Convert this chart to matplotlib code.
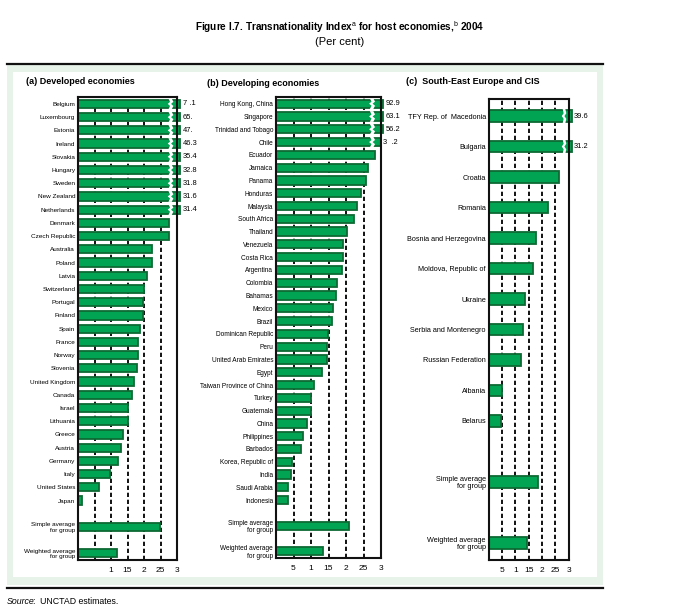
import numpy as np
import matplotlib
matplotlib.use('Agg')
import matplotlib.pyplot as plt
from matplotlib.patches import Rectangle, Polygon
from matplotlib.lines import Line2D

plt.rcParams['font.family'] = ['Liberation Sans', 'DejaVu Sans']
plt.rcParams['mathtext.fontset'] = 'custom'
plt.rcParams['mathtext.rm'] = 'Liberation Sans'
plt.rcParams['mathtext.bf'] = 'Liberation Sans:bold'

# (a) economias desarrolladas
paises_a = ['Belgium', 'Luxembourg', 'Estonia', 'Ireland', 'Slovakia', 'Hungary', 'Sweden',
            'New Zealand', 'Netherlands', 'Denmark', 'Czech Republic', 'Australia', 'Poland',
            'Latvia', 'Switzerland', 'Portugal', 'Finland', 'Spain', 'France', 'Norway',
            'Slovenia', 'United Kingdom', 'Canada', 'Israel', 'Lithuania', 'Greece', 'Austria',
            'Germany', 'Italy', 'United States', 'Japan',
            'Simple average\nfor group', 'Weighted average\nfor group']
valores_a = [77.1, 65.0, 47.0, 46.3, 35.4, 32.8, 31.8, 31.6, 31.4, 27.7, 27.7, 22.3, 22.4,
             21.0, 20.1, 19.8, 19.6, 18.8, 18.3, 18.3, 17.8, 17.1, 16.5, 15.2, 15.2, 13.7,
             13.1, 12.2, 9.6, 6.5, 1.3, 24.8, 11.9]
etiquetas_a = ['7 .1', '65.', '47.', '46.3', '35.4', '32.8', '31.8', '31.6', '31.4']
ticks_a = ['', '1', '15', '2', '25', '3']

# (b) economias en desarrollo
paises_b = ['Hong Kong, China', 'Singapore', 'Trinidad and Tobago', 'Chile', 'Ecuador',
            'Jamaica', 'Panama', 'Honduras', 'Malaysia', 'South Africa', 'Thailand',
            'Venezuela', 'Costa Rica', 'Argentina', 'Colombia', 'Bahamas', 'Mexico', 'Brazil',
            'Dominican Republic', 'Peru', 'United Arab Emirates', 'Egypt',
            'Taiwan Province of China', 'Turkey', 'Guatemala', 'China', 'Philippines',
            'Barbados', 'Korea, Republic of', 'India', 'Saudi Arabia', 'Indonesia',
            'Simple average\nfor group', 'Weighted average\nfor group']
valores_b = [92.9, 63.1, 56.2, 30.2, 28.4, 26.2, 25.6, 24.3, 23.0, 22.2, 20.4, 19.0, 19.0,
             18.8, 17.3, 17.0, 16.2, 15.9, 14.9, 14.6, 14.6, 13.0, 10.8, 10.1, 10.1, 8.8,
             7.8, 7.2, 4.5, 4.2, 3.3, 3.3, 20.8, 13.3]
etiquetas_b = ['92.9', '63.1', '56.2', '3  .2']
ticks_b = ['5', '1', '15', '2', '25', '3']

# (c) Europa sudoriental y CEI
paises_c = ['TFY Rep. of  Macedonia', 'Bulgaria', 'Croatia', 'Romania',
            'Bosnia and Herzegovina', 'Moldova, Republic of', 'Ukraine',
            'Serbia and Montenegro', 'Russian Federation', 'Albania', 'Belarus',
            'Simple average\nfor group', 'Weighted average\nfor group']
valores_c = [39.6, 31.2, 26.5, 22.4, 17.9, 16.7, 13.7, 12.7, 12.2, 5.1, 4.6, 18.6, 14.5]
etiquetas_c = ['39.6', '31.2']
ticks_c = ['5', '1', '15', '2', '25', '3']

verde = '#00a452'
borde = '#0d6a34'

fig = plt.figure(figsize=(6.79, 6.07), dpi=100)

# fondo verde claro y recuadro blanco
fig.patches.append(Rectangle((7/679, 1-585/607), 596/679, 520/607, transform=fig.transFigure,
                             facecolor='#e7f2e9', edgecolor='none', zorder=-3))
fig.patches.append(Rectangle((13/679, 1-577/607), 584/679, 505/607, transform=fig.transFigure,
                             facecolor='white', edgecolor='none', zorder=-2))
for yy in [64, 588]:
    fig.lines.append(Line2D([7/679, 603/679], [1-yy/607, 1-yy/607], transform=fig.transFigure,
                            color='#111111', lw=1.6))

fig.text(0.5, 1-27/607, r'Figure I.7. Transnationality Index$^{\mathrm{a}}$ for host economies,$^{\mathrm{b}}$ 2004',
         ha='center', va='center', fontsize=7.2, fontweight='bold')
fig.text(0.5, 1-42/607, '(Per cent)', ha='center', va='center', fontsize=8)
fig.text(7/679, 1-602/607, 'Source', ha='left', va='center', fontsize=6.3, style='italic')
fig.text(33/679, 1-602/607, ':  UNCTAD estimates.', ha='left', va='center', fontsize=6.3)


def zigzag(ax, x0, y, h):
    w = 1.0
    pts = [(x0, y - h/2 - 0.1), (x0 + 0.5, y - h/4), (x0 - 0.2, y), (x0 + 0.5, y + h/4),
           (x0, y + h/2 + 0.1),
           (x0 + w, y + h/2 + 0.1), (x0 + w + 0.5, y + h/4), (x0 + w - 0.2, y),
           (x0 + w + 0.5, y - h/4), (x0 + w, y - h/2 - 0.1)]
    ax.add_patch(Polygon(pts, closed=True, facecolor='white', edgecolor='none', zorder=4))


def panel(rect, titulo, tpos, nombres, valores, etiquetas, ticks, posiciones, ylim, alto,
          tope, xcorte, fs):
    ax = fig.add_axes(rect)
    for i, (p, v) in enumerate(zip(posiciones, valores)):
        largo = v if v <= 30 else tope[i] if isinstance(tope, list) else tope
        ax.barh(p, largo, height=alto, color=verde, edgecolor=borde, linewidth=1.3,
                zorder=3, clip_on=False)
        if v > 30:
            zigzag(ax, xcorte, p, alto)
            ax.text(largo + 0.7, p, etiquetas[i], ha='left', va='center', fontsize=5.4,
                    clip_on=False)
    for xv in [5, 10, 15, 20, 25]:
        ax.axvline(xv, color='#111111', lw=1.4, ls=(0, (2.2, 1.4)), zorder=1)
    ax.set_xlim(0, 30)
    ax.set_ylim(*ylim)
    ax.set_yticks(posiciones)
    ax.set_yticklabels(nombres, fontsize=fs, linespacing=1.05)
    ax.set_xticks([5, 10, 15, 20, 25, 30])
    ax.set_xticklabels(ticks, fontsize=6)
    ax.tick_params(length=0, pad=2)
    ax.tick_params(axis='x', pad=5)
    for s in ax.spines.values():
        s.set_linewidth(1.5)
        s.set_color('#111111')
        s.set_zorder(5)
    fig.text(tpos[0]/679, 1-tpos[1]/607, titulo, ha='left', va='center', fontsize=6.5,
             fontweight='bold')
    return ax


pos_a = list(range(31)) + [32, 34]
panel([78/679, 1-560/607, 99/679, 462.7/607], '(a) Developed economies', (26, 82),
      paises_a, valores_a, etiquetas_a, ticks_a, pos_a, (34.5, -0.5), 0.62, 31.0, 27.4, 4.6)

pos_b = list(range(32)) + [33, 35]
tope_b = [30.7, 30.7, 30.7, 30.0] + [0] * 30
panel([276/679, 1-557.7/607, 105/679, 460.4/607], '(b) Developing economies', (207, 83),
      paises_b, valores_b, etiquetas_b, ticks_b, pos_b, (35.5, -0.5), 0.64, tope_b, 26.8, 4.7)

pos_c = list(range(11)) + [12, 14]
panel([488.7/679, 1-560/607, 80/679, 460.7/607], '(c)  South-East Europe and CIS', (406, 81),
      paises_c, valores_c, etiquetas_c, ticks_c, pos_c, (14.56, -0.55), 0.37, 31.1, 27.6, 5.2)

fig.savefig('out.png', dpi=100)
